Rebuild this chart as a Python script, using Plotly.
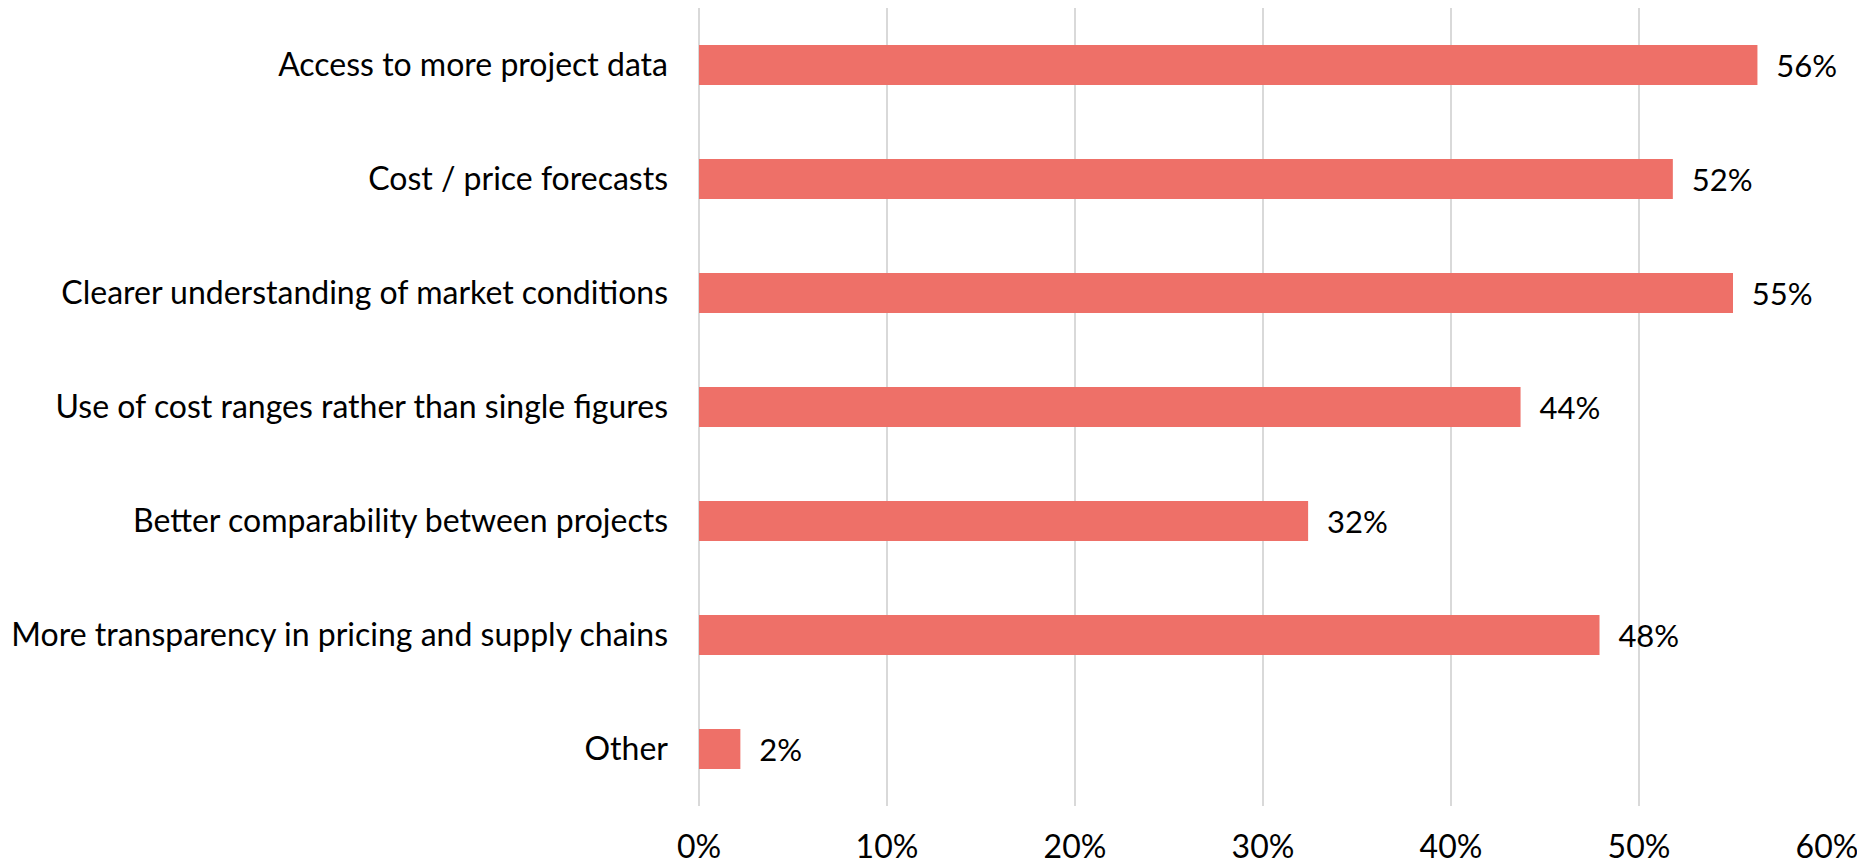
import plotly.graph_objects as go

categories = [
    "Access to more project data",
    "Cost / price forecasts",
    "Clearer understanding of market conditions",
    "Use of cost ranges rather than single figures",
    "Better comparability between projects",
    "More transparency in pricing and supply chains",
    "Other",
]
values = [0.563, 0.518, 0.550, 0.437, 0.324, 0.479, 0.022]
labels = ["56%", "52%", "55%", "44%", "32%", "48%", "2%"]
x_ticks = [0, 0.1, 0.2, 0.3, 0.4, 0.5, 0.6]
x_tick_labels = ["0%", "10%", "20%", "30%", "40%", "50%", "60%"]

FONT = "Lato"
FS = 32

fig = go.Figure(
    go.Bar(
        x=values,
        y=categories,
        orientation="h",
        marker=dict(color="#EE7068", line=dict(width=0)),
        text=["\u00a0\u00a0" + l for l in labels],
        textposition="outside",
        textfont=dict(family=FONT, size=FS - 1, color="#000000"),
        cliponaxis=False,
        width=0.35,
    )
)

fig.update_layout(
    width=1865,
    height=863,
    margin=dict(l=691, r=46, t=0, b=65),
    paper_bgcolor="white",
    plot_bgcolor="white",
    showlegend=False,
    font=dict(family=FONT, size=FS, color="#000000"),
)

fig.update_xaxes(
    range=[0, 0.6],
    tickvals=x_ticks,
    ticktext=x_tick_labels,
    showgrid=True,
    gridcolor="#D9D9D9",
    gridwidth=1.5,
    zeroline=True,
    zerolinecolor="#D9D9D9",
    zerolinewidth=1.5,
    showline=False,
    ticks="",
    ticklabelstandoff=19,
    tickfont=dict(family=FONT, size=FS, color="#000000"),
)

fig.update_yaxes(
    autorange="reversed",
    showgrid=False,
    showline=False,
    ticks="",
    ticklabelstandoff=30,
    tickfont=dict(family=FONT, size=FS, color="#000000"),
)

fig.write_html("out.html")
